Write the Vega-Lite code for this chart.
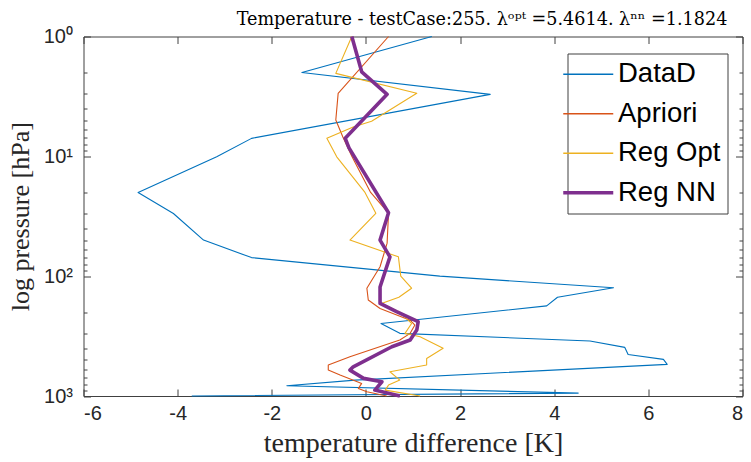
{
  "$schema": "https://vega.github.io/schema/vega-lite/v6.json",
  "width": 659,
  "height": 359.5,
  "autosize": "none",
  "padding": {"left": 83.5, "top": 36.5, "right": 8.5, "bottom": 66},
  "background": "white",
  "title": {"text": "Temperature - testCase:255.  λᵒᵖᵗ =5.4614.  λⁿⁿ =1.1824", "font": "DejaVu Serif", "fontSize": 17.6, "fontWeight": "normal", "color": "#000000", "offset": -2, "dx": 69, "anchor": "middle"},
  "config": {
    "view": {"stroke": "#404040", "strokeWidth": 1},
    "axis": {"grid": false, "domain": false, "tickColor": "#404040", "labelColor": "#262626", "labelFont": "Liberation Sans", "labelFontSize": 20, "titleFont": "Liberation Serif", "titleFontWeight": "normal", "titleFontSize": 28, "titleColor": "#262626"}
  },
  "data": {"values": [
    {"series": "DataD", "p": 1, "t": 1.40},
    {"series": "DataD", "p": 2.0, "t": -1.36},
    {"series": "DataD", "p": 3.04, "t": 2.64},
    {"series": "DataD", "p": 7.08, "t": -2.43},
    {"series": "DataD", "p": 10.1, "t": -3.17},
    {"series": "DataD", "p": 20, "t": -4.84},
    {"series": "DataD", "p": 30, "t": -4.09},
    {"series": "DataD", "p": 50, "t": -3.45},
    {"series": "DataD", "p": 70, "t": -2.43},
    {"series": "DataD", "p": 100, "t": 1.57},
    {"series": "DataD", "p": 125, "t": 5.26},
    {"series": "DataD", "p": 150, "t": 4.07},
    {"series": "DataD", "p": 177, "t": 3.84},
    {"series": "DataD", "p": 248, "t": 0.32},
    {"series": "DataD", "p": 300, "t": 0.72},
    {"series": "DataD", "p": 348, "t": 4.76},
    {"series": "DataD", "p": 393, "t": 5.50},
    {"series": "DataD", "p": 450, "t": 5.57},
    {"series": "DataD", "p": 495, "t": 6.32},
    {"series": "DataD", "p": 545, "t": 6.40},
    {"series": "DataD", "p": 737, "t": -0.23},
    {"series": "DataD", "p": 822, "t": -1.68},
    {"series": "DataD", "p": 946, "t": 4.51},
    {"series": "DataD", "p": 1000, "t": -3.70},
    {"series": "Apriori", "p": 1, "t": 0.48},
    {"series": "Apriori", "p": 2.98, "t": -0.59},
    {"series": "Apriori", "p": 4.98, "t": -0.64},
    {"series": "Apriori", "p": 6.9, "t": -0.49},
    {"series": "Apriori", "p": 10, "t": -0.30},
    {"series": "Apriori", "p": 20, "t": 0.10},
    {"series": "Apriori", "p": 29.8, "t": 0.48},
    {"series": "Apriori", "p": 53, "t": 0.45},
    {"series": "Apriori", "p": 83.5, "t": 0.30},
    {"series": "Apriori", "p": 126, "t": 0.02},
    {"series": "Apriori", "p": 158, "t": 0.05},
    {"series": "Apriori", "p": 186, "t": 0.30},
    {"series": "Apriori", "p": 233, "t": 0.94},
    {"series": "Apriori", "p": 256, "t": 1.04},
    {"series": "Apriori", "p": 300, "t": 0.94},
    {"series": "Apriori", "p": 341, "t": 0.72},
    {"series": "Apriori", "p": 471, "t": -0.34},
    {"series": "Apriori", "p": 552, "t": -0.80},
    {"series": "Apriori", "p": 608, "t": -0.80},
    {"series": "Apriori", "p": 669, "t": -0.55},
    {"series": "Apriori", "p": 785, "t": -0.09},
    {"series": "Apriori", "p": 864, "t": -0.16},
    {"series": "Apriori", "p": 923, "t": 0.02},
    {"series": "Apriori", "p": 1000, "t": 0.44},
    {"series": "Reg Opt", "p": 1, "t": -0.30},
    {"series": "Reg Opt", "p": 2.03, "t": -0.64},
    {"series": "Reg Opt", "p": 2.98, "t": 1.08},
    {"series": "Reg Opt", "p": 5.1, "t": 0.12},
    {"series": "Reg Opt", "p": 5.7, "t": -0.27},
    {"series": "Reg Opt", "p": 7.08, "t": -0.83},
    {"series": "Reg Opt", "p": 10.1, "t": -0.62},
    {"series": "Reg Opt", "p": 20, "t": -0.02},
    {"series": "Reg Opt", "p": 29.9, "t": 0.21},
    {"series": "Reg Opt", "p": 50, "t": -0.34},
    {"series": "Reg Opt", "p": 69, "t": 0.69},
    {"series": "Reg Opt", "p": 100, "t": 0.74},
    {"series": "Reg Opt", "p": 126, "t": 0.97},
    {"series": "Reg Opt", "p": 150, "t": 0.70},
    {"series": "Reg Opt", "p": 169, "t": 0.33},
    {"series": "Reg Opt", "p": 200, "t": 0.72},
    {"series": "Reg Opt", "p": 248, "t": 0.97},
    {"series": "Reg Opt", "p": 300, "t": 0.83},
    {"series": "Reg Opt", "p": 320, "t": 1.15},
    {"series": "Reg Opt", "p": 400, "t": 1.64},
    {"series": "Reg Opt", "p": 486, "t": 1.29},
    {"series": "Reg Opt", "p": 552, "t": 1.29},
    {"series": "Reg Opt", "p": 628, "t": 0.51},
    {"series": "Reg Opt", "p": 737, "t": 0.72},
    {"series": "Reg Opt", "p": 811, "t": 0.48},
    {"series": "Reg Opt", "p": 893, "t": 0.41},
    {"series": "Reg Opt", "p": 1000, "t": 1.15},
    {"series": "Reg NN", "p": 1, "t": -0.30},
    {"series": "Reg NN", "p": 1.97, "t": -0.09},
    {"series": "Reg NN", "p": 3.04, "t": 0.45},
    {"series": "Reg NN", "p": 7.08, "t": -0.44},
    {"series": "Reg NN", "p": 8.5, "t": -0.36},
    {"series": "Reg NN", "p": 29.6, "t": 0.48},
    {"series": "Reg NN", "p": 50, "t": 0.30},
    {"series": "Reg NN", "p": 69, "t": 0.51},
    {"series": "Reg NN", "p": 123, "t": 0.30},
    {"series": "Reg NN", "p": 169, "t": 0.30},
    {"series": "Reg NN", "p": 198, "t": 0.65},
    {"series": "Reg NN", "p": 240, "t": 1.11},
    {"series": "Reg NN", "p": 282, "t": 1.08},
    {"series": "Reg NN", "p": 341, "t": 0.94},
    {"series": "Reg NN", "p": 388, "t": 0.55},
    {"series": "Reg NN", "p": 571, "t": -0.27},
    {"series": "Reg NN", "p": 608, "t": -0.34},
    {"series": "Reg NN", "p": 713, "t": -0.05},
    {"series": "Reg NN", "p": 761, "t": 0.34},
    {"series": "Reg NN", "p": 893, "t": 0.19},
    {"series": "Reg NN", "p": 1000, "t": 0.72}
  ]},
  "layer": [
    {
      "mark": {"type": "line", "strokeJoin": "round"},
      "encoding": {
        "x": {"field": "t", "type": "quantitative", "scale": {"domain": [-6, 8], "nice": false, "zero": false},
              "axis": {"orient": "bottom", "values": [-6, -4, -2, 0, 2, 4, 6, 8], "tickSize": -7, "labelPadding": 14, "labelExpr": "datum.value < 0 ? '-' + abs(datum.value) : '' + datum.value", "title": "temperature difference [K]", "titlePadding": 6}},
        "y": {"field": "p", "type": "quantitative", "scale": {"type": "log", "domain": [1, 1000], "reverse": true, "nice": false},
              "axis": {"orient": "left", "values": [1, 10, 100, 1000], "tickSize": -7, "labelPadding": 18, "labelExpr": "datum.value == 1 ? '10⁰' : datum.value == 10 ? '10¹' : datum.value == 100 ? '10²' : '10³'", "title": "log pressure [hPa]", "titleFontSize": 26, "titlePadding": 10}},
        "color": {"field": "series", "type": "nominal",
                  "scale": {"domain": ["DataD", "Apriori", "Reg Opt", "Reg NN"], "range": ["#0072BD", "#D95319", "#EDB120", "#7E2F8E"]},
                  "legend": {"title": null, "orient": "none", "legendX": 484, "legendY": 17, "symbolType": "stroke", "symbolSize": 2500, "symbolStrokeWidth": 1.3, "labelFont": "Liberation Sans", "labelFontSize": 27.5, "labelColor": "#000000", "labelOffset": 16, "labelLimit": 300, "rowPadding": 10.5, "padding": 7, "strokeColor": "#404040", "fillColor": "white",
                             "encode": {"symbols": {"update": {"strokeWidth": {"signal": "datum.value === 'Reg NN' ? 3.6 : 1.3"}}}}}},
        "strokeWidth": {"condition": {"test": "datum.series === 'Reg NN'", "value": 3.6}, "value": 1.1},
        "order": {"field": "p", "type": "quantitative"}
      }
    },
    {
      "mark": {"type": "point", "opacity": 0},
      "encoding": {
        "x": {"field": "t", "type": "quantitative", "axis": {"orient": "top", "values": [-6, -4, -2, 0, 2, 4, 6, 8], "tickSize": -7, "labels": false, "title": null}},
        "y": {"field": "p", "type": "quantitative", "axis": {"orient": "right", "values": [1, 10, 100, 1000], "tickSize": -7, "labels": false, "title": null}}
      }
    },
    {
      "mark": {"type": "point", "opacity": 0},
      "encoding": {
        "x": {"field": "t", "type": "quantitative", "axis": null},
        "y": {"field": "p", "type": "quantitative", "axis": {"orient": "left", "values": [2, 3, 4, 5, 6, 7, 8, 9, 20, 30, 40, 50, 60, 70, 80, 90, 200, 300, 400, 500, 600, 700, 800, 900], "tickSize": -3.5, "labels": false, "title": null}}
      }
    },
    {
      "mark": {"type": "point", "opacity": 0},
      "encoding": {
        "x": {"field": "t", "type": "quantitative", "axis": null},
        "y": {"field": "p", "type": "quantitative", "axis": {"orient": "right", "values": [2, 3, 4, 5, 6, 7, 8, 9, 20, 30, 40, 50, 60, 70, 80, 90, 200, 300, 400, 500, 600, 700, 800, 900], "tickSize": -3.5, "labels": false, "title": null}}
      }
    }
  ],
  "resolve": {"axis": {"x": "independent", "y": "independent"}}
}
